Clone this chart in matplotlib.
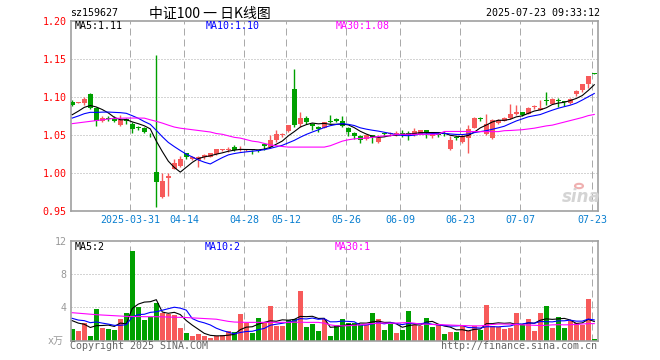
import numpy as np
import matplotlib.pyplot as plt
from matplotlib.patches import Circle

# K线数据
open_ = [1.094, 1.092, 1.092, 1.104, 1.085, 1.069, 1.072, 1.0714, 1.0635, 1.0705,
         1.0648, 1.0602, 1.0588, 1.050, 1.0011, 0.9691, 0.994, 1.0056, 1.0095, 1.0262,
         1.0184, 1.0175, 1.021, 1.0218, 1.0253, 1.030, 1.031, 1.0345, 1.031, 1.030,
         1.0306, 1.0297, 1.0380, 1.0342, 1.0429, 1.0505, 1.0557, 1.1109, 1.064, 1.0728,
         1.064, 1.0609, 1.0596, 1.067, 1.0705, 1.0688, 1.0596, 1.053, 1.049, 1.0446,
         1.050, 1.0411, 1.0518, 1.051, 1.0513, 1.0522, 1.0526, 1.050, 1.0517, 1.057,
         1.0482, 1.0517, 1.0517, 1.0315, 1.0468, 1.0411, 1.0455, 1.0596, 1.0715, 1.0508,
         1.0455, 1.0657, 1.0688, 1.0719, 1.0771, 1.0806, 1.078, 1.0873, 1.0833, 1.0945,
         1.0912, 1.095, 1.093, 1.092, 1.1034, 1.1087, 1.1175, 1.131]
high = [1.096, 1.094, 1.0995, 1.105, 1.087, 1.0745, 1.075, 1.0745, 1.0758, 1.073,
        1.0666, 1.0618, 1.0605, 1.0526, 1.1556, 1.000, 1.000, 1.0189, 1.0227, 1.027,
        1.0227, 1.0227, 1.0253, 1.027, 1.0323, 1.0323, 1.034, 1.0363, 1.0358, 1.0323,
        1.031, 1.0306, 1.0385, 1.050, 1.057, 1.0526, 1.0636, 1.1372, 1.0798, 1.0745,
        1.0657, 1.0618, 1.0675, 1.0767, 1.0719, 1.0745, 1.0605, 1.0543, 1.050, 1.0517,
        1.050, 1.050, 1.0526, 1.0543, 1.0552, 1.0566, 1.0552, 1.0587, 1.057, 1.057,
        1.0517, 1.0535, 1.0535, 1.049, 1.0482, 1.0508, 1.0631, 1.0736, 1.0736, 1.0771,
        1.071, 1.071, 1.0732, 1.0912, 1.0899, 1.0806, 1.0868, 1.0894, 1.0964, 1.107,
        1.0981, 1.0981, 1.0938, 1.0981, 1.1087, 1.1175, 1.128, 1.131]
low = [1.088, 1.092, 1.090, 1.084, 1.062, 1.0666, 1.068, 1.0666, 1.062, 1.065,
       1.0533, 1.057, 1.0526, 1.047, 0.956, 0.968, 0.970, 1.0052, 1.0086, 1.018,
       1.0175, 1.0086, 1.0192, 1.021, 1.0236, 1.0288, 1.0284, 1.0288, 1.0297, 1.0288,
       1.025, 1.028, 1.031, 1.0332, 1.041, 1.0473, 1.0543, 1.0605, 1.0605, 1.064,
       1.057, 1.0543, 1.0587, 1.0662, 1.0666, 1.0605, 1.049, 1.0446, 1.0402, 1.0429,
       1.0402, 1.0402, 1.049, 1.049, 1.049, 1.048, 1.0437, 1.049, 1.0508, 1.0455,
       1.0455, 1.048, 1.049, 1.0306, 1.0429, 1.0402, 1.0271, 1.0587, 1.0683, 1.0499,
       1.0446, 1.0648, 1.0679, 1.071, 1.0762, 1.0754, 1.0771, 1.0842, 1.0824, 1.0894,
       1.0903, 1.0868, 1.0877, 1.0912, 1.1008, 1.107, 1.1122, 1.1305]
close = [1.090, 1.093, 1.0972, 1.086, 1.068, 1.073, 1.071, 1.068, 1.070, 1.069,
         1.0582, 1.0593, 1.0544, 1.0495, 0.989, 0.9899, 0.996, 1.0131, 1.0188, 1.021,
         1.0218, 1.021, 1.024, 1.0262, 1.0315, 1.0306, 1.0315, 1.031, 1.0315, 1.0306,
         1.0302, 1.0295, 1.0358, 1.0429, 1.0517, 1.0508, 1.0636, 1.0636, 1.0728, 1.0675,
         1.0613, 1.0583, 1.0666, 1.0666, 1.0679, 1.0622, 1.0535, 1.0482, 1.0429, 1.050,
         1.0473, 1.0464, 1.0515, 1.0517, 1.0522, 1.0513, 1.050, 1.0552, 1.057, 1.0526,
         1.0517, 1.050, 1.0513, 1.0429, 1.0464, 1.049, 1.0578, 1.0728, 1.071, 1.0649,
         1.0692, 1.0692, 1.0723, 1.078, 1.0806, 1.0762, 1.085, 1.0877, 1.0859, 1.0942,
         1.0973, 1.0946, 1.0929, 1.0973, 1.1078, 1.1166, 1.128, 1.1305]
# 窗口之前的9个收盘价(估计), 用来算开头的MA5/MA10
pre_close = [1.066, 1.067, 1.068, 1.069, 1.0695, 1.070, 1.072, 1.074, 1.0775]
ma30 = [1.065, 1.066, 1.067, 1.068, 1.069, 1.070, 1.071, 1.072, 1.072, 1.0723,
        1.0723, 1.0723, 1.0722, 1.070, 1.068, 1.0657, 1.063, 1.0605, 1.059, 1.058,
        1.057, 1.056, 1.055, 1.054, 1.052, 1.051, 1.049, 1.047, 1.046, 1.044,
        1.042, 1.041, 1.039, 1.037, 1.036, 1.035, 1.0342, 1.0342, 1.0342, 1.0342,
        1.0342, 1.0342, 1.0342, 1.036, 1.039, 1.042, 1.0438, 1.045, 1.0455, 1.046,
        1.047, 1.048, 1.049, 1.049, 1.051, 1.051, 1.051, 1.051, 1.051, 1.051,
        1.051, 1.051, 1.0547, 1.0547, 1.0547, 1.0547, 1.0547, 1.0545, 1.0545, 1.0545,
        1.0545, 1.0545, 1.0557, 1.056, 1.0565, 1.057, 1.058, 1.059, 1.0605, 1.062,
        1.063, 1.065, 1.067, 1.069, 1.071, 1.073, 1.0755, 1.077]

# 成交量 (万)
volume = [1.4, 1.16, 2.1, 0.56, 3.8, 1.5, 1.4, 1.3, 2.6, 3.3,
          10.76, 4.0, 2.5, 2.84, 4.5, 3.36, 3.24, 3.08, 1.5, 0.9,
          0.6, 0.8, 0.6, 0.32, 0.6, 0.64, 1.16, 1.04, 3.2, 2.08,
          0.9, 2.7, 2.1, 4.16, 1.8, 1.76, 2.5, 2.56, 5.96, 1.64,
          2.0, 1.2, 2.64, 0.56, 1.9, 2.6, 2.1, 2.1, 1.9, 1.84,
          3.3, 2.64, 1.3, 1.96, 0.92, 1.24, 3.56, 1.92, 1.72, 2.72,
          1.68, 1.88, 0.8, 1.08, 1.08, 1.76, 1.16, 1.72, 1.28, 4.28,
          1.8, 1.64, 1.44, 1.52, 3.32, 1.84, 2.6, 1.2, 3.32, 4.16,
          1.52, 2.88, 1.52, 2.32, 2.12, 1.84, 5.04, 0.2]
vol_dir = ("GRRGGRGGRG" "GGGGGRRRRG" "RRRRRRRGRR" "GGRRRRGGRG" "GGRGGGGGGR"
           "GRGGRGGRRG" "GRGRGRRRGR" "RRRRRGRRRG" "RGGRRRRG")
pre_volume = [3.2, 2.8, 3.0, 2.9, 2.9, 2.6, 2.8, 2.5, 2.7]
vol_ma30 = [3.36, 3.3, 3.24, 3.18, 3.12, 3.08, 3.04, 3.0, 2.96, 2.92,
            2.9, 2.9, 2.88, 2.88, 2.88, 2.86, 2.84, 2.82, 2.8, 2.78,
            2.74, 2.7, 2.66, 2.62, 2.58, 2.45, 2.32, 2.24, 2.22, 2.2,
            2.2, 2.2, 2.2, 2.2, 2.2, 2.2, 2.2, 2.22, 2.22, 2.2,
            2.2, 2.2, 2.1, 1.9, 1.8, 1.78, 1.8, 1.85, 1.9, 2.0,
            2.05, 2.1, 2.12, 2.1, 2.12, 2.15, 2.18, 2.1, 2.0, 1.98,
            1.95, 1.95, 1.9, 1.88, 1.85, 1.82, 1.8, 1.78, 1.78, 1.85,
            1.95, 2.0, 2.0, 1.98, 1.95, 1.9, 1.88, 1.85, 1.82, 1.85,
            1.9, 1.92, 1.9, 1.92, 1.95, 2.0, 2.05, 2.05]

date_idx = [10, 19, 29, 36, 46, 55, 65, 75, 87]
date_labels = ["2025-03-31", "04-14", "04-28", "05-12", "05-26",
               "06-09", "06-23", "07-07", "07-23"]
price_ticks = [0.95, 1.00, 1.05, 1.10, 1.15, 1.20]
vol_ticks = [4, 8, 12]

RED = "#f75a5a"
GREEN = "#00a000"
GRID = "#aaaaaa"
MONO = "DejaVu Sans Mono"


def moving_avg(values, pre, n):
    full = np.concatenate([pre, values])
    out = np.convolve(full, np.ones(n) / n, mode="valid")
    return out[-len(values):]


def px(x, y):
    # 像素坐标 -> figure坐标
    return x / 660, 1 - y / 360


o, h, l, c = map(np.array, (open_, high, low, close))
x = np.arange(len(c))
cols = [RED if cc >= oo else GREEN for oo, cc in zip(o, c)]
vcols = [RED if d == "R" else GREEN for d in vol_dir]

fig = plt.figure(figsize=(6.6, 3.6), dpi=100)
ax = fig.add_axes([0.1071, 0.4131, 0.7985, 0.5294])
axv = fig.add_axes([0.1071, 0.0536, 0.7985, 0.2778])

grid_x = np.array(date_idx) - 0.38
for a in (ax, axv):
    a.set_xlim(-0.27, 87.57)
    for gx in grid_x:
        a.axvline(gx, color=GRID, lw=0.72, ls=(0, (7, 4)), zorder=0)
    for s in a.spines.values():
        s.set_color("#a0a0a0")
        s.set_linewidth(1.2)

# 价格
ax.set_ylim(0.95, 1.20)
for gy in [1.00, 1.05, 1.10, 1.15]:
    ax.axhline(gy, color=GRID, lw=0.72, ls=(0, (1, 2)), zorder=0)
ax.vlines(x, l, h, colors=cols, lw=1, zorder=2)
body = np.maximum(np.abs(c - o), 0.0012)
ax.bar(x, body, bottom=np.minimum(o, c), width=0.75, color=cols, lw=0, zorder=3)
ax.plot(x, moving_avg(c, pre_close, 5), color="black", lw=0.8, zorder=4)
ax.plot(x, moving_avg(c, pre_close, 10), color="#0000ff", lw=0.8, zorder=4)
ax.plot(x, ma30, color="#ff00ff", lw=0.8, zorder=4)

ax.set_yticks(price_ticks)
ax.set_yticklabels(["%.2f" % t for t in price_ticks], color="red",
                   family=MONO, fontsize=7.2)
ax.set_xticks(grid_x)
ax.set_xticklabels(date_labels, color="#0a7fd0", family=MONO, fontsize=7.2)
ax.tick_params(length=0, pad=3)

# 成交量
axv.set_ylim(0, 12)
for gy in vol_ticks[:2]:
    axv.axhline(gy, color=GRID, lw=0.72, ls=(0, (1, 2)), zorder=0)
axv.bar(x, volume, width=0.8, color=vcols, lw=0, zorder=2)
axv.plot(x, moving_avg(volume, pre_volume, 5), color="black", lw=0.8, zorder=3)
axv.plot(x, moving_avg(volume, pre_volume, 10), color="#0000ff", lw=0.8, zorder=3)
axv.plot(x, vol_ma30, color="#ff00ff", lw=0.8, zorder=3)
axv.set_yticks(vol_ticks)
axv.set_yticklabels([str(t) for t in vol_ticks], color="#999999",
                    family=MONO, fontsize=7.2)
axv.set_xticks([])
axv.tick_params(length=0, pad=3)

# 文字
fig.text(*px(70, 13), "sz159627", family=MONO, fontsize=7.2, va="center")
fig.text(*px(210, 14), "中证100 一 日K线图", family=["Noto Sans CJK SC", "DejaVu Sans"],
         fontsize=10, ha="center", va="center")
fig.text(*px(600, 13), "2025-07-23 09:33:12", family=MONO, fontsize=7.2,
         ha="right", va="center")

fig.text(*px(74.5, 26), "MA5:1.11", family=MONO, fontsize=7.2, va="center")
fig.text(*px(206, 26), "MA10:1.10", family=MONO, fontsize=7.2, va="center", color="#0000ff")
fig.text(*px(336, 26), "MA30:1.08", family=MONO, fontsize=7.2, va="center", color="#ff00ff")
fig.text(*px(74.7, 246.5), "MA5:2", family=MONO, fontsize=7.2, va="center")
fig.text(*px(204.7, 246.5), "MA10:2", family=MONO, fontsize=7.2, va="center", color="#0000ff")
fig.text(*px(335, 246.5), "MA30:1", family=MONO, fontsize=7.2, va="center", color="#ff00ff")

fig.text(*px(64, 340.5), "x万", family=[MONO, "Noto Sans CJK SC"], fontsize=7.2,
         ha="right", va="center", color="#999999")
fig.text(*px(70, 346), "Copyright 2025 SINA.COM", family=MONO, fontsize=7.2,
         va="center", color="#666666")
fig.text(*px(597, 346), "http://finance.sina.com.cn", family=MONO, fontsize=7.2,
         ha="right", va="center", color="#666666")

# sina 水印
fig.text(*px(581, 197), "sina", fontsize=12, style="italic", weight="bold",
         color="#d4d4d4", ha="center", va="center")
fig.patches.append(Circle(px(579, 186), 4 / 660, transform=fig.transFigure,
                          facecolor="none", edgecolor="#efb0b0", lw=1.5))

fig.savefig("out.png", dpi=100)
